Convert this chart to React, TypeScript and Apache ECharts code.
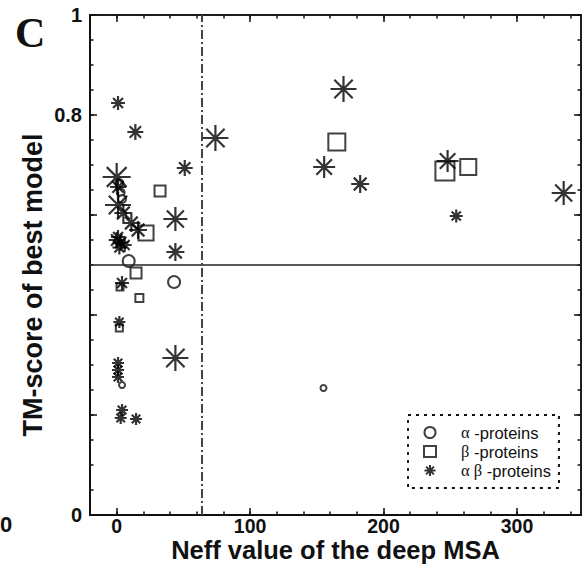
import React, { useEffect, useRef } from "react";
import * as echarts from "echarts";

// [Neff, TM-score, marker size]
const alphaProteins: number[][] = [
  [9, 0.508, 12], [43, 0.466, 12], [155, 0.254, 6], [4, 0.26, 6],
  [2, 0.664, 8], [3, 0.645, 8], [4, 0.632, 8],
];
const betaProteins: number[][] = [
  [165, 0.746, 17], [246, 0.688, 19], [263.5, 0.696, 16], [32.5, 0.648, 11],
  [22, 0.564, 15], [14.5, 0.484, 11], [17, 0.434, 8], [2.5, 0.456, 7], [2, 0.374, 7],
];
const alphaBetaProteins: number[][] = [
  [1, 0.824, 14], [14, 0.766, 16], [0, 0.676, 28], [51, 0.694, 16], [74, 0.754, 26],
  [170, 0.852, 26], [155.5, 0.696, 22], [182.5, 0.662, 18], [248, 0.708, 22],
  [254.5, 0.598, 13], [335, 0.644, 24], [44, 0.592, 24], [44, 0.526, 18], [44, 0.314, 26],
  [1, 0.656, 16], [1, 0.62, 26], [5, 0.604, 18], [11, 0.584, 18], [16, 0.57, 18],
  [1, 0.556, 14], [0, 0.55, 16], [3, 0.545, 16], [6, 0.54, 14], [2, 0.535, 14],
  [4, 0.464, 14], [2, 0.386, 12], [1, 0.304, 12], [1, 0.29, 12], [1, 0.276, 12],
  [4, 0.21, 12], [3, 0.194, 12], [14.5, 0.192, 12],
];

const neffThreshold = 64;
const tmThreshold = 0.5;

const xMajorTicks = [0, 100, 200, 300];
const xMinorTicks = [-20, 0, 20, 40, 60, 80, 100, 120, 140, 160, 180, 200, 220, 240, 260, 280, 300, 320, 340];
const yMajorTicks = [0, 0.2, 0.4, 0.6, 0.8, 1];
const yMinorTicks = [0, 0.05, 0.1, 0.15, 0.2, 0.25, 0.3, 0.35, 0.4, 0.45, 0.5, 0.55, 0.6, 0.65, 0.7, 0.75, 0.8, 0.85, 0.9, 0.95, 1];
const yLabelTicks = [0, 0.8, 1];

const X_MIN = -20;
const X_MAX = 348;

const ASTERISK =
  "path://M0,-10L0,10M-10,0L10,0M-7.07,-7.07L7.07,7.07M-7.07,7.07L7.07,-7.07";

const FONT = "Liberation Sans, Arial, sans-serif";
const INK = "#111";

export default function App() {
  const ref = useRef<HTMLDivElement>(null);

  useEffect(() => {
    if (!ref.current) return;
    const chart = echarts.init(ref.current, undefined, { renderer: "svg" });

    const xAx = (pos: string, ticks: number[], len: number, main: boolean) => ({
      type: "value",
      position: pos,
      min: X_MIN,
      max: X_MAX,
      axisLine: { show: true, onZero: false, lineStyle: { color: INK, width: pos === "bottom" ? 2 : 1.5 } },
      axisTick: { show: true, inside: true, length: len, customValues: ticks, lineStyle: { color: INK, width: 1.5 } },
      axisLabel: main
        ? { show: true, customValues: xMajorTicks, fontSize: 19.5, lineHeight: 18, fontWeight: "bold", fontFamily: FONT, color: INK, margin: 2 }
        : { show: false },
      splitLine: { show: false },
      ...(main
        ? {
            name: "Neff value of the deep MSA",
            nameLocation: "middle",
            nameGap: 23,
            nameMoveOverlap: false,
            nameTextStyle: { fontSize: 25.5, lineHeight: 23, fontWeight: "bold", fontFamily: FONT, color: INK },
          }
        : {}),
    });

    const yAx = (pos: string, ticks: number[], len: number, main: boolean) => ({
      type: "value",
      position: pos,
      min: 0,
      max: 1,
      axisLine: { show: true, onZero: false, lineStyle: { color: INK, width: pos === "left" ? 2 : 1.5 } },
      axisTick: { show: true, inside: true, length: len, customValues: ticks, lineStyle: { color: INK, width: 1.5 } },
      axisLabel: main
        ? { show: true, customValues: yLabelTicks, fontSize: 20, fontWeight: "bold", fontFamily: FONT, color: INK, margin: 8 }
        : { show: false },
      splitLine: { show: false },
    });

    chart.setOption({
      animation: false,
      backgroundColor: "#fff",
      title: {
        text: "C",
        left: 15,
        top: 12,
        padding: 0,
        textStyle: { fontFamily: "Liberation Serif, Times New Roman, serif", fontWeight: "bold", fontSize: 42, color: INK },
      },
      grid: { left: 90, right: 2, top: 15, bottom: 49, containLabel: false, outerBoundsMode: "none" },
      xAxis: [
        xAx("bottom", xMajorTicks, 7, true),
        xAx("bottom", xMinorTicks, 3.5, false),
        xAx("top", xMajorTicks, 7, false),
        xAx("top", xMinorTicks, 3.5, false),
      ],
      yAxis: [
        yAx("left", yMajorTicks, 7, true),
        yAx("left", yMinorTicks, 3.5, false),
        yAx("right", yMajorTicks, 7, false),
        yAx("right", yMinorTicks, 3.5, false),
      ],
      legend: {
        orient: "vertical",
        left: 408,
        top: 415,
        padding: [9, 8, 9, 15],
        itemWidth: 12,
        itemHeight: 11,
        itemGap: 2,
        selectedMode: false,
        borderColor: INK,
        borderWidth: 2,
        borderType: [3, 5],
        textStyle: {
          fontSize: 16.5,
          fontFamily: FONT,
          color: INK,
          padding: [0, 0, 0, 20],
          rich: {
            g: { fontSize: 16.5, fontFamily: "Liberation Serif, Times New Roman, serif", color: INK },
          },
        },
        formatter: (name: string) => {
          if (name === "α -proteins") return "{g|α} -proteins";
          if (name === "β -proteins") return "{g|β} -proteins";
          return "{g|α β} -proteins";
        },
        data: ["α -proteins", "β -proteins", "α β -proteins"],
      },
      graphic: [
        {
          type: "text",
          x: 33,
          y: 285,
          rotation: Math.PI / 2,
          style: {
            text: "TM-score of best model",
            font: `bold 27px ${FONT}`,
            fill: INK,
            align: "center",
            verticalAlign: "middle",
          },
        },
        {
          type: "text",
          x: 0,
          y: 524,
          style: { text: "0", font: `bold 22px ${FONT}`, fill: INK, align: "left", verticalAlign: "middle" },
        },
      ],
      series: [
        {
          name: "α -proteins",
          type: "scatter",
          data: alphaProteins,
          symbol: "emptyCircle",
          symbolSize: (v: number[]) => v[2],
          itemStyle: { color: INK, borderColor: INK, borderWidth: 2 },
          markLine: {
            silent: true,
            symbol: "none",
            label: { show: false },
            data: [
              { yAxis: tmThreshold, lineStyle: { color: "#222", width: 1.5, type: "solid" } },
              { xAxis: neffThreshold, lineStyle: { color: "#444", width: 2, type: [9, 3, 2, 3] } },
            ],
          },
        },
        {
          name: "β -proteins",
          type: "scatter",
          data: betaProteins,
          symbol: "emptyRect",
          symbolSize: (v: number[]) => v[2],
          itemStyle: { color: INK, borderColor: INK, borderWidth: 2 },
        },
        {
          name: "α β -proteins",
          type: "scatter",
          data: alphaBetaProteins,
          symbol: ASTERISK,
          symbolSize: (v: number[]) => v[2],
          itemStyle: { color: "transparent", borderColor: "#000", borderWidth: 2.2 },
        },
      ],
    });

    return () => chart.dispose();
  }, []);

  return <div ref={ref} style={{ width: 583, height: 564, position: "absolute", left: 0, top: 0 }} />;
}
